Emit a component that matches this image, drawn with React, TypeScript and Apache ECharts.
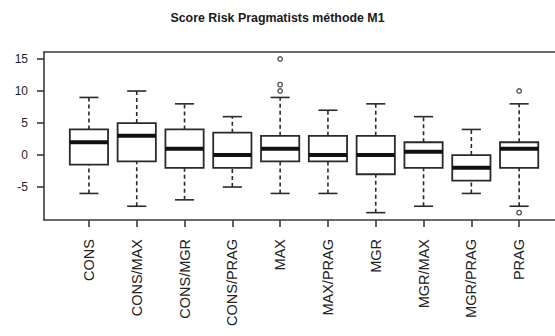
import React, { useEffect, useRef } from "react";
import * as echarts from "echarts";

const categories = ["CONS", "CONS/MAX", "CONS/MGR", "CONS/PRAG", "MAX", "MAX/PRAG", "MGR", "MGR/MAX", "MGR/PRAG", "PRAG"];
const whiskerLow = [-6, -8, -7, -5, -6, -6, -9, -8, -6, -8];
const quartile1 = [-1.5, -1, -2, -2, -1, -1, -3, -2, -4, -2];
const medians = [2, 3, 1, 0, 1, 0, 0, 0.5, -2, 1];
const quartile3 = [4, 5, 4, 3.5, 3, 3, 3, 2, 0, 2];
const whiskerHigh = [9, 10, 8, 6, 9, 7, 8, 6, 4, 8];
// [category index, value]
const outliers: [number, number][] = [
  [4, 10],
  [4, 11],
  [4, 15],
  [9, 10],
  [9, -9],
];
const yTicks = [-5, 0, 5, 10, 15];
const title = "Score Risk Pragmatists méthode M1";

export default function App() {
  const ref = useRef<HTMLDivElement>(null);
  useEffect(() => {
    if (!ref.current) return;
    const chart = echarts.init(ref.current, null, { renderer: "svg" });
    const lineColor = "#2a2a2a";
    const frameColor = "#3a3a3a";
    const boxData = categories.map((_, i) => [
      i + 1,
      whiskerLow[i],
      quartile1[i],
      medians[i],
      quartile3[i],
      whiskerHigh[i],
    ]);
    const positions = categories.map((_, i) => i + 1);
    const xMin = 0.06;
    const xMax = 10.75;
    chart.setOption({
      animation: false,
      backgroundColor: "#ffffff",
      title: {
        text: title,
        left: "center",
        top: 7,
        textStyle: {
          fontFamily: "Liberation Sans",
          fontWeight: "bold",
          fontSize: 12.4,
          color: "#1a1a1a",
        },
      },
      grid: {
        left: 44,
        right: 0,
        top: 52,
        bottom: 116,
        show: false,
      },
      xAxis: [
        {
          type: "value",
          position: "bottom",
          min: xMin,
          max: xMax,
          axisLine: { show: true, onZero: false, lineStyle: { color: frameColor, width: 1.6 } },
          splitLine: { show: false },
          axisTick: {
            show: true,
            length: 7,
            customValues: positions,
            lineStyle: { color: frameColor, width: 1.6 },
          },
          axisLabel: {
            customValues: positions,
            rotate: 90,
            margin: 19,
            formatter: (v: number) => categories[Math.round(v) - 1] ?? "",
            fontFamily: "Liberation Sans",
            fontSize: 14.5,
            color: "#222",
          },
        },
        {
          type: "value",
          position: "top",
          min: xMin,
          max: xMax,
          axisLine: { show: true, onZero: false, lineStyle: { color: frameColor, width: 1.6 } },
          splitLine: { show: false },
          axisTick: { show: false },
          axisLabel: { show: false },
        },
      ],
      yAxis: {
        type: "value",
        min: -10.15,
        max: 16.1,
        axisLine: { show: true, onZero: false, lineStyle: { color: frameColor, width: 1.6 } },
        splitLine: { show: false },
        axisTick: {
          show: true,
          length: 7,
          customValues: yTicks,
          lineStyle: { color: frameColor, width: 1.6 },
        },
        axisLabel: {
          customValues: yTicks,
          margin: 16,
          fontFamily: "Liberation Sans",
          fontSize: 12,
          color: "#222",
        },
      },
      series: [
        {
          type: "custom",
          xAxisIndex: 0,
          data: boxData,
          encode: { x: 0, y: [1, 2, 3, 4, 5] },
          renderItem: (params: any, api: any) => {
            const x = api.value(0);
            const lo = api.value(1);
            const a = api.value(2);
            const m = api.value(3);
            const b = api.value(4);
            const hi = api.value(5);
            const half = 0.4;
            const cap = 0.2;
            const tl = api.coord([x - half, b]);
            const br = api.coord([x + half, a]);
            const c = (v: number) => api.coord([x, v]);
            const dashStyle = { stroke: lineColor, lineWidth: 1.6, lineDash: [4, 3], fill: null };
            const solid = { stroke: lineColor, lineWidth: 1.6, fill: null };
            const capL = (v: number) => api.coord([x - cap, v]);
            const capR = (v: number) => api.coord([x + cap, v]);
            const mL = api.coord([x - half, m]);
            const mR = api.coord([x + half, m]);
            return {
              type: "group",
              children: [
                { type: "line", shape: { x1: c(b)[0], y1: c(b)[1], x2: c(hi)[0], y2: c(hi)[1] }, style: dashStyle },
                { type: "line", shape: { x1: c(lo)[0], y1: c(lo)[1], x2: c(a)[0], y2: c(a)[1] }, style: dashStyle },
                { type: "line", shape: { x1: capL(hi)[0], y1: capL(hi)[1], x2: capR(hi)[0], y2: capR(hi)[1] }, style: solid },
                { type: "line", shape: { x1: capL(lo)[0], y1: capL(lo)[1], x2: capR(lo)[0], y2: capR(lo)[1] }, style: solid },
                {
                  type: "rect",
                  shape: { x: tl[0], y: tl[1], width: br[0] - tl[0], height: br[1] - tl[1] },
                  style: { stroke: lineColor, lineWidth: 1.8, fill: "#ffffff" },
                },
                { type: "line", shape: { x1: mL[0], y1: mL[1], x2: mR[0], y2: mR[1] }, style: { stroke: "#111", lineWidth: 4 } },
              ],
            };
          },
        },
        {
          type: "scatter",
          xAxisIndex: 0,
          data: outliers.map(([i, v]) => [i + 1, v]),
          symbol: "circle",
          symbolSize: 4.5,
          itemStyle: { color: "#ffffff", borderColor: lineColor, borderWidth: 1.4 },
        },
      ],
    });
    return () => chart.dispose();
  }, []);
  return (
    <div
      ref={ref}
      style={{ position: "fixed", left: 0, top: 0, width: 555, height: 336, background: "#fff" }}
    />
  );
}
